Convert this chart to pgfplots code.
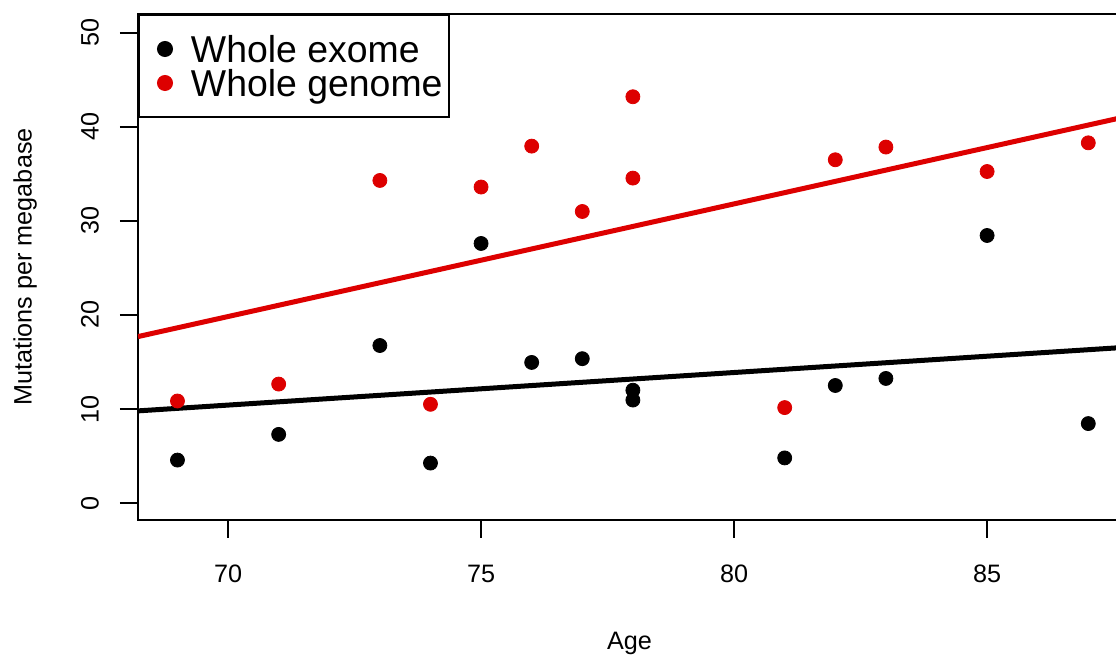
\documentclass[border=0pt]{standalone}
\usepackage{pgfplots}
\pgfplotsset{compat=1.18}
\usepackage{fontspec}
\setmainfont{Liberation Sans}
\definecolor{rred}{RGB}{221,0,0}
\begin{document}
\begin{tikzpicture}
\begin{axis}[
  name=ax,
  scale only axis,
  width=491.6pt, height=253pt,
  xmin=68.22, xmax=87.65,
  ymin=-1.8, ymax=52.0,
  axis line style={line width=1pt},
  xtick={70,75,80,85},
  ytick={0,10,20,30,40,50},
  xtick pos=bottom, ytick pos=left,
  tick align=outside,
  major tick length=9pt,
  tick style={line width=1pt, black},
  /pgf/number format/assume math mode=true,
  tick label style={font=\fontsize{12.6}{15}\selectfont},
  xticklabel style={anchor=north, yshift=-10pt},
  yticklabel style={rotate=90, anchor=south, yshift=7pt},
  xlabel={Age},
  ylabel={Mutations per megabase},
  label style={font=\fontsize{12.6}{15}\selectfont},
  xlabel style={at={(axis description cs:0.5,0)}, anchor=center, yshift=-61.5pt},
  ylabel style={at={(axis description cs:0,0.5)}, anchor=center, yshift=56.5pt},
  clip=true,
  legend cell align=left,
  legend style={at={(axis description cs:0,1)}, anchor=north west,
    draw=black, line width=1pt, font=\fontsize{18.7}{17}\selectfont,
    inner xsep=3pt, inner ysep=8.5pt, row sep=0pt,
    nodes={inner sep=0pt, text height=15.5pt, text depth=1.5pt}},
]
\addplot[only marks, mark=*, mark size=3.5pt, black, mark options={draw=none, fill=black},
  legend image code/.code={\path (-9.5pt,0) (12.5pt,0); \fill[black] (0,0) circle (3.5pt);}]
  coordinates {(69,4.57) (71,7.3) (73,16.75) (74,4.25) (75,27.6) (76,14.95) (77,15.35) (78,12.0) (78,10.95) (81,4.8) (82,12.5) (83,13.25) (85,28.45) (87,8.45)};
\addlegendentry{Whole exome}
\addplot[only marks, mark=*, mark size=3.5pt, rred, mark options={draw=none, fill=rred},
  legend image code/.code={\path (-9.5pt,0) (12.5pt,0); \fill[rred] (0,0) circle (3.5pt);}]
  coordinates {(69,10.85) (71,12.65) (73,34.3) (74,10.5) (75,33.6) (76,37.95) (77,31.0) (78,43.2) (78,34.55) (81,10.15) (82,36.5) (83,37.85) (85,35.25) (87,38.3)};
\addlegendentry{Whole genome}
\addplot[black, line width=2.5pt, forget plot] coordinates {(68.22,9.8) (87.65,16.53)};
\addplot[rred, line width=2.5pt, forget plot] coordinates {(68.22,17.7) (87.65,40.97)};
\end{axis}
\pgfresetboundingbox
\useasboundingbox ([xshift=-69pt,yshift=-68pt]ax.south west) rectangle ([xshift=489pt,yshift=7pt]ax.north west);
\end{tikzpicture}
\end{document}
